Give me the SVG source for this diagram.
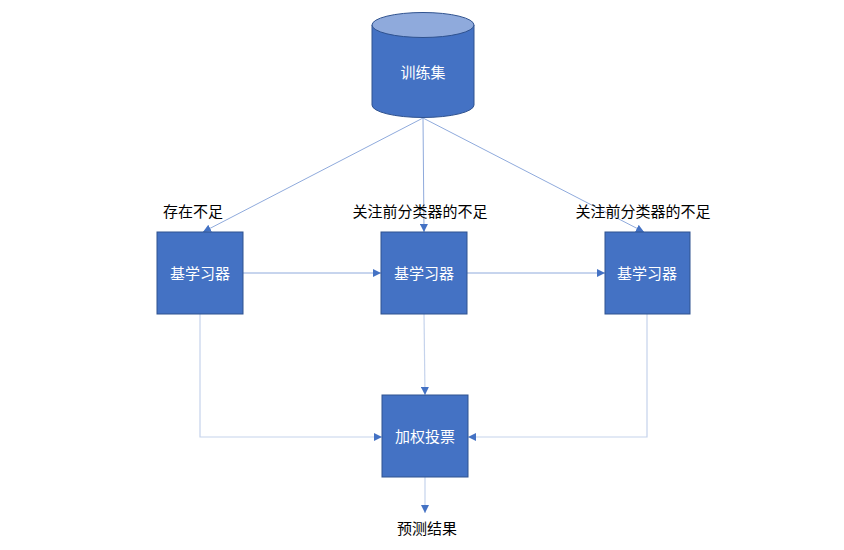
<svg xmlns="http://www.w3.org/2000/svg" width="844" height="550" viewBox="0 0 844 550">
<style>
.box{fill:#4472C4;stroke:#2F528F;stroke-width:1}
.lbl{font-family:"Liberation Sans","Noto Sans CJK SC",sans-serif;font-size:15px;text-anchor:middle;dominant-baseline:central}
.w{fill:#FFFFFF}
.k{fill:#000000}
.ln{fill:none;stroke:#8FAADC;stroke-width:1}
.ln2{fill:none;stroke:#C5D3EC;stroke-width:1.2}
</style>
<defs>
<marker id="ah" viewBox="0 0 10 10" refX="10" refY="5" markerWidth="8" markerHeight="8" markerUnits="userSpaceOnUse" orient="auto">
<path d="M0,0 L10,5 L0,10 Z" fill="#4472C4"/>
</marker>
</defs>
<rect width="844" height="550" fill="#FFFFFF"/>
<g id="connectors">
<line class="ln" x1="423" y1="118" x2="203" y2="232" marker-end="url(#ah)"/>
<line class="ln" x1="423" y1="118" x2="424" y2="232" marker-end="url(#ah)"/>
<line class="ln" x1="423" y1="118" x2="644" y2="232" marker-end="url(#ah)"/>
<line class="ln" x1="243" y1="273" x2="381" y2="273" marker-end="url(#ah)"/>
<line class="ln" x1="467" y1="273" x2="605" y2="273" marker-end="url(#ah)"/>
<path class="ln2" d="M200,314 L200,437 L382,437" marker-end="url(#ah)"/>
<path class="ln2" d="M424,314 L425,395" marker-end="url(#ah)"/>
<path class="ln2" d="M647,314 L647,437 L468,437" marker-end="url(#ah)"/>
<path class="ln2" d="M425,477 L425,513" marker-end="url(#ah)"/>
</g>
<g id="train">
<path d="M372,25 L372,105 A51,12.5 0 0 0 474,105 L474,25" fill="#4472C4" stroke="#2F528F"/>
<ellipse cx="423" cy="25" rx="51" ry="12.5" fill="#8FAADC" stroke="#2F528F"/>
<text class="lbl w" x="423" y="72">训练集</text>
</g>
<g id="learner1">
<rect class="box" x="157" y="232" width="86" height="82"/>
<text class="lbl w" x="200" y="273">基学习器</text>
</g>
<g id="learner2">
<rect class="box" x="381" y="232" width="86" height="82"/>
<text class="lbl w" x="424" y="273">基学习器</text>
</g>
<g id="learner3">
<rect class="box" x="605" y="232" width="85" height="82"/>
<text class="lbl w" x="647" y="273">基学习器</text>
</g>
<g id="vote">
<rect class="box" x="382" y="395" width="86" height="82"/>
<text class="lbl w" x="425" y="436">加权投票</text>
</g>
<g id="labels">
<text class="lbl k" x="193" y="211">存在不足</text>
<text class="lbl k" x="420" y="211">关注前分类器的不足</text>
<text class="lbl k" x="643" y="211">关注前分类器的不足</text>
<text class="lbl k" x="427" y="528">预测结果</text>
</g>
</svg>
